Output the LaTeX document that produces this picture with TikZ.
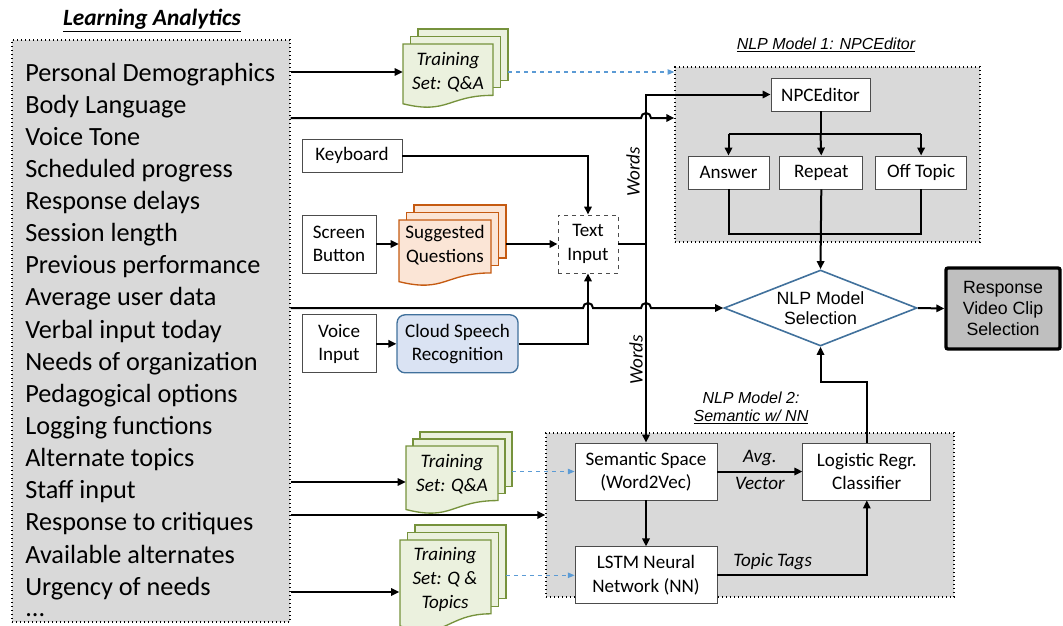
\documentclass[tikz,border=0pt]{standalone}
\usepackage{fontspec}
\setmainfont{Carlito}
\newfontfamily\arialfont{Liberation Sans}
\usetikzlibrary{positioning}
\usetikzlibrary{arrows.meta}
\usetikzlibrary{shapes.geometric}

\definecolor{panelgray}{RGB}{217,217,217}
\definecolor{docgreen}{RGB}{235,241,222}
\definecolor{docgreenline}{RGB}{118,146,60}
\definecolor{docorange}{RGB}{251,229,214}
\definecolor{docorangeline}{RGB}{197,90,17}
\definecolor{cloudblue}{RGB}{218,227,243}
\definecolor{cloudline}{RGB}{65,113,156}
\definecolor{dashblue}{RGB}{91,155,213}
\definecolor{respgray}{RGB}{191,191,191}

% sheets: left, top, width, height, style
\newcommand{\sheetback}[5]{%
  \draw[#5] ({#1},{#2}) rectangle ({#1+#3},{#2+0.802*#4});}
\newcommand{\sheetfront}[5]{%
  \draw[#5] ({#1},{#2}) -- ({#1+#3},{#2}) -- ({#1+#3},{#2+0.802*#4})
    .. controls ({#1+0.5*#3},{#2+0.802*#4}) and ({#1+0.5*#3},{#2+1.107*#4}) .. ({#1},{#2+0.934*#4}) -- cycle;}
\newcommand{\sheetstack}[6]{%
  \sheetback{#1+2*#5}{#2-2*#5}{#3}{#4}{#6}
  \sheetback{#1+#5}{#2-#5}{#3}{#4}{#6}
  \sheetfront{#1}{#2}{#3}{#4}{#6}}

\begin{document}
\begin{tikzpicture}[x=0.75pt, y=-0.75pt]
            \useasboundingbox (0,0) rectangle (1063,625);
            \tikzstyle{panel}=[rectangle, draw, dotted, line width=1pt, fill=panelgray];
            \tikzstyle{io_node}=[rectangle, draw=black!70, line width=0.6pt, fill=white, align=center, inner sep=1pt, font=\fontsize{14.3}{17.5}\selectfont];
            \tikzstyle{doc_text}=[align=center, inner sep=0pt, font=\fontsize{14.3}{18}\selectfont];
            \tikzstyle{it_label}=[font=\fontsize{14.3}{18}\selectfont\itshape];
            \tikzstyle{green_doc}=[fill=docgreen, draw=docgreenline, line width=1pt];
            \tikzstyle{conn}=[line width=1.5pt, -{Triangle[length=6pt, width=5.5pt]}];
            \tikzstyle{plain}=[line width=1.5pt];
            \tikzstyle{feed}=[dashed, dashblue, line width=0.8pt, -{Triangle[length=5pt, width=4pt]}];

            % Learning analytics column
            \node(la_title) [font=\fontsize{17.5}{20}\selectfont\bfseries\itshape] at (152,21) {\underline{Learning Analytics}};
            \node(analytics) [panel, minimum width=208.5pt, minimum height=436.5pt] at (151,331) {};
            \node(factors) [anchor=north west, align=left, inner sep=0pt, font=\fontsize{19.7}{24.1}\selectfont] at (25,62.5)
                {Personal Demographics\\Body Language\\Voice Tone\\Scheduled progress\\Response delays\\Session length\\Previous performance\\Average user data\\Verbal input today\\Needs of organization\\Pedagogical options\\Logging functions\\Alternate topics\\Staff input\\Response to critiques\\Available alternates\\Urgency of needs\\[-8pt]...};

            % Inputs
            \node(keyboard) [io_node, minimum width=75pt, minimum height=24.75pt] at (352,155.5) {Keyboard};
            \node(screen) [io_node, minimum width=55.5pt, minimum height=43.5pt] at (339,244) {Screen\\Button};
            \node(voice) [io_node, minimum width=55.5pt, minimum height=43.5pt, below=30.75pt of screen] {Voice\\Input};
            \node(cloud) [io_node, rounded corners=6pt, fill=cloudblue, draw=cloudline, line width=1pt, minimum width=90.75pt, minimum height=43.5pt, right=15pt of voice] {Cloud Speech\\Recognition};
            \node(text_in) [io_node, dashed, minimum width=45pt, minimum height=43.5pt] at (588,244) {Text\\Input};

            % Document stacks
            \sheetstack{399}{220}{92}{66}{7.5}{fill=docorange, draw=docorangeline, line width=1pt}
            \node(suggested) [doc_text, minimum width=69pt] at (445,245) {Suggested\\Questions};
            \sheetstack{403}{44}{90}{64}{7.5}{green_doc}
            \node(train_a) [doc_text, minimum width=67.5pt, it_label] at (448,72) {Training\\Set: Q\&A};
            \sheetstack{406}{446}{92}{68}{7}{green_doc}
            \node(train_b) [doc_text, minimum width=69pt, it_label] at (452,474) {Training\\Set: Q\&A};
            \sheetstack{400}{540}{91}{92}{7.5}{green_doc}
            \node(train_c) [doc_text, minimum width=68.25pt, it_label] at (445,579) {Training\\Set: Q \&\\Topics};

            % NLP model 1
            \node(m1_box) [panel, minimum width=228.75pt, minimum height=131.25pt] at (827.5,154.5) {};
            \node(m1_title) [font=\arialfont\fontsize{12}{14}\selectfont\itshape] at (826,45) {\underline{NLP Model 1: NPCEditor}};
            \node(npc) [io_node, minimum width=74.25pt, minimum height=24.75pt] at (820.5,94.5) {NPCEditor};
            \node(answer) [io_node, minimum width=60.75pt, minimum height=24.75pt] at (728.5,172.5) {Answer};
            \node(repeat) [io_node, minimum width=62.25pt, minimum height=24.75pt, right=7.5pt of answer] {Repeat};
            \node(off_topic) [io_node, minimum width=68.25pt, minimum height=24.75pt, right=9pt of repeat] {Off Topic};

            % Selection
            \node(select) [diamond, draw=cloudline, line width=1.2pt, fill=white, aspect=2.54, inner sep=0pt, minimum width=144.75pt, minimum height=57pt, align=center, font=\arialfont\fontsize{13.3}{15}\selectfont] at (820.5,308) {NLP Model\\Selection};
            \node(response) [rectangle, draw, line width=2.5pt, fill=respgray, rounded corners=1.5pt, minimum width=85.5pt, minimum height=60.75pt, align=center, font=\arialfont\fontsize{13.3}{16}\selectfont] at (1003,308.5) {Response\\Video Clip\\Selection};

            % NLP model 2
            \node(m2_box) [panel, minimum width=306pt, minimum height=123pt] at (750,515) {};
            \node(m2_title) [align=center, font=\arialfont\fontsize{12}{13.5}\selectfont\itshape] at (751,408) {NLP Model 2:\\\underline{Semantic w/ NN}};
            \node(semantic) [io_node, minimum width=106.5pt, minimum height=42.75pt] at (646,471.5) {Semantic Space\\(Word2Vec)};
            \node(lstm) [io_node, minimum width=106.5pt, minimum height=42.75pt, below=34.5pt of semantic] {LSTM Neural\\Network (NN)};
            \node(logistic) [io_node, minimum width=96pt, minimum height=42.75pt, right=63.75pt of semantic] {Logistic Regr.\\Classifier};

            % Words bus
            \coordinate(words_join) at (semantic.north |- text_in.east);
            \coordinate(body_lang) at (analytics.east |- 0,118);
            \draw[conn] (text_in.east) -- (words_join) |- (npc.west);
            \draw[conn] (words_join) -- (semantic.north);
            \node(words_a) [it_label, rotate=90] at (633,172) {Words};
            \node(words_b) [it_label, rotate=90] at (636,360) {Words};

            % Analytics outputs
            \draw[conn] (analytics.east |- train_a.west) -- (train_a.west);
            \draw[feed] ([xshift=11.25pt]train_a.east) -- (m1_box.west |- train_a.east);
            \draw[conn] (body_lang) -- ([xshift=-3.75pt]words_join |- body_lang) arc[start angle=180, end angle=0, radius=3.75pt] -- (m1_box.west |- body_lang);
            \draw[conn] (analytics.east |- select.west) -- ([xshift=-3.75pt]text_in.south |- select.west) arc[start angle=180, end angle=0, radius=3.75pt]
                -- ([xshift=-3.75pt]words_join |- select.west) arc[start angle=180, end angle=0, radius=3.75pt] -- (select.west);
            \coordinate(staff) at ([yshift=-6pt]train_b.west);
            \draw[conn] (analytics.east |- staff) -- (staff);
            \draw[feed] ([xshift=10.5pt]train_b.east |- semantic.west) -- (semantic.west);
            \draw[conn] (analytics.east |- m2_box.west) -- (m2_box.west);
            \coordinate(urgency) at ([yshift=-9.75pt]train_c.west);
            \draw[conn] (analytics.east |- urgency) -- (urgency);
            \draw[feed] ([xshift=11.25pt]train_c.east |- lstm.west) -- (lstm.west);

            % Text input
            \draw[conn] (keyboard.east) -| (text_in.north);
            \draw[conn] (screen.east) -- (suggested.west |- screen.east);
            \draw[conn] ([xshift=11.25pt]suggested.east |- text_in.west) -- (text_in.west);
            \draw[conn] (voice) -- (cloud);
            \draw[conn] (cloud.east) -| (text_in.south);

            % NPCEditor branches
            \coordinate(split) at ([yshift=-17.25pt]npc.south);
            \draw[plain] (npc.south) -- (split);
            \draw[plain] (split -| answer.north) -- (split -| off_topic.north);
            \draw[conn] (split -| answer.north) -- (answer.north);
            \draw[conn] (split) -- (repeat.north);
            \draw[conn] (split -| off_topic.north) -- (off_topic.north);
            \coordinate(merge) at ([yshift=-33.75pt]repeat.south);
            \draw[plain] (answer.south) |- (merge) -| (off_topic.south);
            \draw[conn] (repeat.south) -- (select.north);
            \draw[conn] (select.east) -- (response.west);

            % Semantic model
            \draw[conn] (semantic.east) -- node[above, it_label]{Avg.} node[below, it_label]{Vector} (logistic.west);
            \draw[conn] (semantic.south) -- (lstm.north);
            \draw[conn] (lstm.east) -| node[pos=0.185, above, it_label]{Topic Tags} (logistic.south);
            \draw[conn] (logistic.north) -- ++(0,-61) -| (select.south);
        \end{tikzpicture}
\end{document}
